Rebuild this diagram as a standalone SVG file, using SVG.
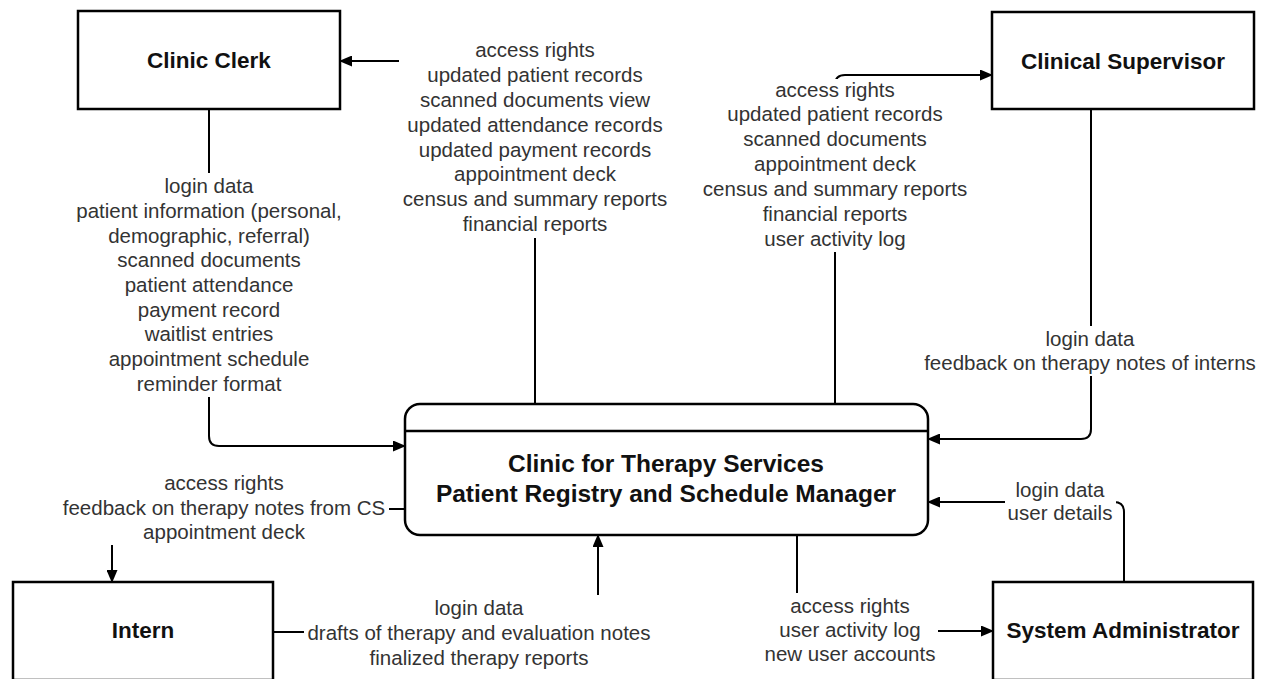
<svg xmlns="http://www.w3.org/2000/svg" width="1265" height="679" viewBox="0 0 1265 679">
<style>
.box{fill:#fff;stroke:#000;stroke-width:2.5}
.name{font-family:"Liberation Sans",Arial,sans-serif;font-weight:bold;font-size:22.5px;fill:#111;text-anchor:middle}
.pname{font-family:"Liberation Sans",Arial,sans-serif;font-weight:bold;font-size:24.5px;fill:#111;text-anchor:middle}
.flow{fill:none;stroke:#000;stroke-width:2;marker-end:url(#arr)}
.lbl{font-family:"Liberation Sans",Arial,sans-serif;font-size:20.5px;fill:#333;text-anchor:middle}
.bg{fill:#fff;stroke:none}
</style>
<defs>
<marker id="arr" markerUnits="userSpaceOnUse" markerWidth="13" markerHeight="11" refX="12" refY="5.5" orient="auto">
<path d="M0,0 L13,5.5 L0,11 z" fill="#000"/>
</marker>
</defs>
<rect width="1265" height="679" fill="#fff"/>
<g id="connectors">
<path class="flow" d="M209,109 V436 Q209,446 219,446 H405"/>
<path class="flow" d="M535,404 V71 Q535,61 525,61 H340"/>
<path class="flow" d="M835,404 V85 Q835,75 845,75 H992"/>
<path class="flow" d="M1091,109 V429 Q1091,439 1081,439 H928"/>
<path class="flow" d="M405,509 H122 Q112,509 112,519 V582"/>
<path class="flow" d="M273,632 H588 Q598,632 598,622 V535"/>
<path class="flow" d="M797,535 V621 Q797,631 807,631 H993"/>
<path class="flow" d="M1124,582 V512 Q1124,502 1114,502 H928"/>
</g>
<g id="labels">
<g id="lbl-clerk-in">
<rect class="bg" x="70" y="173" width="278" height="224"/>
<text class="lbl" x="209" y="193">login data</text>
<text class="lbl" x="209" y="218">patient information (personal,</text>
<text class="lbl" x="209" y="243">demographic, referral)</text>
<text class="lbl" x="209" y="267">scanned documents</text>
<text class="lbl" x="209" y="292">patient attendance</text>
<text class="lbl" x="209" y="317">payment record</text>
<text class="lbl" x="209" y="341">waitlist entries</text>
<text class="lbl" x="209" y="366">appointment schedule</text>
<text class="lbl" x="209" y="391">reminder format</text>
</g>
<g id="lbl-clerk-out">
<rect class="bg" x="399" y="37" width="272" height="201"/>
<text class="lbl" x="535" y="57">access rights</text>
<text class="lbl" x="535" y="82">updated patient records</text>
<text class="lbl" x="535" y="107">scanned documents view</text>
<text class="lbl" x="535" y="132">updated attendance records</text>
<text class="lbl" x="535" y="157">updated payment records</text>
<text class="lbl" x="535" y="181">appointment deck</text>
<text class="lbl" x="535" y="206">census and summary reports</text>
<text class="lbl" x="535" y="231">financial reports</text>
</g>
<g id="lbl-sup-out">
<rect class="bg" x="697" y="79" width="276" height="173"/>
<text class="lbl" x="835" y="97">access rights</text>
<text class="lbl" x="835" y="121">updated patient records</text>
<text class="lbl" x="835" y="146">scanned documents</text>
<text class="lbl" x="835" y="171">appointment deck</text>
<text class="lbl" x="835" y="196">census and summary reports</text>
<text class="lbl" x="835" y="221">financial reports</text>
<text class="lbl" x="835" y="246">user activity log</text>
</g>
<g id="lbl-sup-in">
<rect class="bg" x="919" y="326" width="341" height="50"/>
<text class="lbl" x="1090" y="346">login data</text>
<text class="lbl" x="1090" y="370">feedback on therapy notes of interns</text>
</g>
<g id="lbl-intern-out">
<rect class="bg" x="58" y="470" width="331" height="75"/>
<text class="lbl" x="224" y="490">access rights</text>
<text class="lbl" x="224" y="515">feedback on therapy notes from CS</text>
<text class="lbl" x="224" y="539">appointment deck</text>
</g>
<g id="lbl-intern-in">
<rect class="bg" x="304" y="595" width="353" height="76"/>
<text class="lbl" x="479" y="615">login data</text>
<text class="lbl" x="479" y="640">drafts of therapy and evaluation notes</text>
<text class="lbl" x="479" y="665">finalized therapy reports</text>
</g>
<g id="lbl-admin-out">
<rect class="bg" x="760" y="593" width="178" height="74"/>
<text class="lbl" x="850" y="613">access rights</text>
<text class="lbl" x="850" y="637">user activity log</text>
<text class="lbl" x="850" y="661">new user accounts</text>
</g>
<g id="lbl-admin-in">
<rect class="bg" x="1005" y="477" width="111" height="48"/>
<text class="lbl" x="1060" y="497">login data</text>
<text class="lbl" x="1060" y="520">user details</text>
</g>
</g>
<g id="clinic-clerk">
<rect class="box" x="78" y="11" width="262" height="98"/>
<text class="name" x="209" y="68">Clinic Clerk</text>
</g>
<g id="clinical-supervisor">
<rect class="box" x="992" y="12" width="262" height="97"/>
<text class="name" x="1123" y="69">Clinical Supervisor</text>
</g>
<g id="intern">
<rect class="box" x="13" y="582" width="260" height="98"/>
<text class="name" x="143" y="638">Intern</text>
</g>
<g id="system-administrator">
<rect class="box" x="993" y="582" width="260" height="98"/>
<text class="name" x="1123" y="638">System Administrator</text>
</g>
<g id="process">
<rect class="box" x="405" y="404" width="523" height="131" rx="15" ry="15"/>
<line x1="405" y1="431" x2="928" y2="431" stroke="#000" stroke-width="2.5"/>
<text class="pname" x="666" y="472">Clinic for Therapy Services</text>
<text class="pname" x="666" y="502">Patient Registry and Schedule Manager</text>
</g>
</svg>
